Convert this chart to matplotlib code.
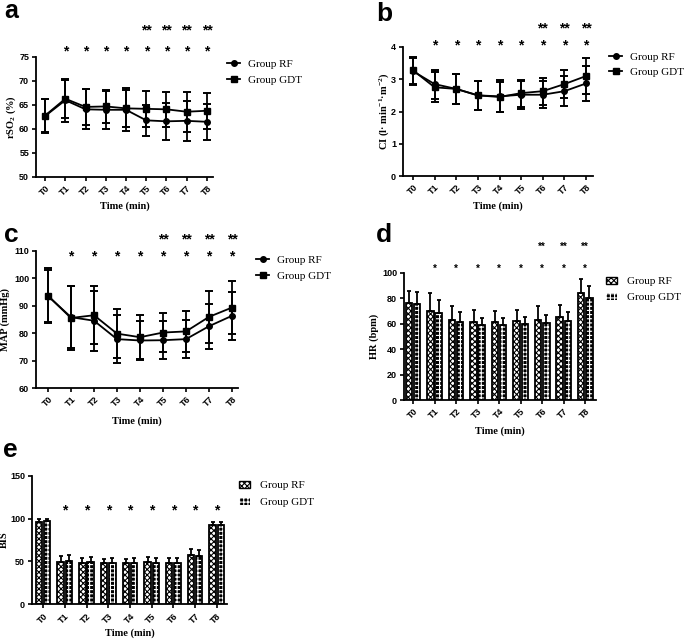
import numpy as np
import matplotlib
matplotlib.use("Agg")
import matplotlib.pyplot as plt
from matplotlib.patches import Patch
from matplotlib.lines import Line2D

plt.rcParams['font.family'] = ['Liberation Sans', 'DejaVu Sans']
plt.rcParams['mathtext.fontset'] = 'custom'
plt.rcParams['mathtext.rm'] = 'Liberation Serif:bold'
plt.rcParams['mathtext.it'] = 'Liberation Serif:bold'
plt.rcParams['mathtext.bf'] = 'Liberation Serif:bold'
plt.rcParams['hatch.linewidth'] = 0.8

# data (mean and SD)
times = ['T0', 'T1', 'T2', 'T3', 'T4', 'T5', 'T6', 'T7', 'T8']

rso2_rf = [62.7, 66.0, 64.1, 64.0, 64.0, 61.8, 61.6, 61.7, 61.5]
rso2_rf_sd = [3.5, 4.5, 4.2, 3.9, 4.5, 3.3, 3.8, 4.2, 3.8]
rso2_gdt = [62.8, 66.3, 64.6, 64.7, 64.3, 64.2, 64.1, 63.6, 63.8]
rso2_gdt_sd = [3.4, 4.0, 3.8, 3.5, 3.9, 3.8, 3.6, 4.2, 3.7]

ci_rf = [3.25, 2.85, 2.70, 2.50, 2.47, 2.52, 2.52, 2.63, 2.87]
ci_rf_sd = [0.42, 0.45, 0.47, 0.44, 0.50, 0.43, 0.42, 0.47, 0.55]
ci_gdt = [3.28, 2.75, 2.70, 2.50, 2.45, 2.57, 2.63, 2.85, 3.10]
ci_gdt_sd = [0.42, 0.47, 0.47, 0.44, 0.47, 0.42, 0.42, 0.43, 0.57]

map_rf = [93.5, 85.8, 84.5, 77.8, 77.3, 77.4, 77.8, 82.5, 86.3]
map_rf_sd = [9.5, 11.4, 11.0, 8.8, 7.2, 7.0, 7.0, 8.2, 8.7]
map_gdt = [93.6, 85.5, 86.5, 79.8, 78.5, 80.2, 80.6, 85.9, 89.3]
map_gdt_sd = [10.0, 11.7, 10.5, 8.8, 8.0, 7.2, 7.5, 9.4, 9.7]

hr_rf = [75.9, 70.2, 62.8, 61.0, 61.0, 61.8, 62.6, 64.9, 84.3]
hr_rf_sd = [9.7, 13.6, 11.3, 9.7, 8.9, 8.9, 11.0, 10.0, 10.5]
hr_gdt = [75.7, 68.3, 61.5, 59.2, 58.9, 59.7, 60.2, 61.8, 80.4]
hr_gdt_sd = [8.9, 10.2, 7.3, 5.5, 5.8, 5.7, 6.3, 7.6, 9.1]

bis_rf = [96.4, 49.2, 48.4, 48.0, 48.0, 49.2, 48.4, 57.5, 92.9]
bis_rf_sd = [3.6, 6.8, 5.2, 4.8, 4.8, 5.6, 5.2, 6.8, 3.1]
bis_gdt = [96.8, 50.4, 49.2, 48.4, 48.4, 48.0, 48.4, 56.3, 92.9]
bis_gdt_sd = [2.4, 6.7, 5.6, 5.2, 5.2, 5.6, 5.2, 6.8, 3.1]

star_a, dstar_a = times[1:], times[5:]
star_b, dstar_b = times[1:], times[6:]
star_c, dstar_c = times[1:], times[5:]
star_d, dstar_d = times[1:], times[6:]
star_e, dstar_e = times[1:], []

W, H = 685, 640
fig = plt.figure(figsize=(W / 100, H / 100), dpi=100)
x = np.arange(len(times))


def make_ax(l, r, top, bot):
    # pixel box -> figure fraction
    return fig.add_axes([l / W, 1 - bot / H, (r - l) / W, (bot - top) / H])


def style(ax, xlim, ylim, yticks, ylabel, ylab_x, xlab_y):
    ax.set_xlim(*xlim)
    ax.set_ylim(*ylim)
    ax.set_yticks(yticks)
    ax.set_xticks(x)
    ax.set_xticklabels(times, rotation=45, ha='right', rotation_mode='anchor')
    for s in ['top', 'right']:
        ax.spines[s].set_visible(False)
    for s in ['left', 'bottom']:
        ax.spines[s].set_linewidth(1.3)
    ax.tick_params(direction='out', length=3, width=1.2, labelsize=6.5, pad=2)
    for t in ax.get_xticklabels() + ax.get_yticklabels():
        t.set_fontweight('bold')
    ax.set_ylabel(ylabel, family='Liberation Serif', fontweight='bold', fontsize=7.5)
    ax.yaxis.set_label_coords(ylab_x, 0.5)
    ax.set_xlabel('Time (min)', family='Liberation Serif', fontweight='bold', fontsize=7.5)
    ax.xaxis.set_label_coords(0.5, xlab_y)


def stars(ax, singles, doubles, y1, y2, fs):
    tr = ax.get_xaxis_transform()
    for t in singles:
        ax.text(times.index(t), y1, '*', transform=tr, ha='center', va='center',
                fontsize=fs, fontweight='bold')
    for t in doubles:
        ax.text(times.index(t), y2, '**', transform=tr, ha='center', va='center',
                fontsize=fs, fontweight='bold')


def line_panel(ax, rf, rf_sd, gdt, gdt_sd):
    kw = dict(color='black', lw=1.3, ms=4, capsize=2.6, capthick=1.4, elinewidth=1.3)
    ax.errorbar(x, gdt, yerr=gdt_sd, marker='s', **kw)
    ax.errorbar(x, rf, yerr=rf_sd, marker='o', **kw)


def line_legend(ax, lx, ly, sp):
    h = [Line2D([], [], color='black', lw=1.3, marker='o', ms=4),
         Line2D([], [], color='black', lw=1.3, marker='s', ms=4)]
    ax.legend(h, ['Group RF', 'Group GDT'], loc='upper left',
              bbox_to_anchor=(lx / W, 1 - ly / H), bbox_transform=fig.transFigure,
              frameon=False, borderpad=0, borderaxespad=0, handlelength=1.2,
              handletextpad=0.7, labelspacing=sp,
              prop={'family': 'Liberation Serif', 'size': 8})


def bar_panel(ax, rf, rf_sd, gdt, gdt_sd):
    w = 0.3
    off = 0.19
    ax.bar(x - off, rf, w, color='white', edgecolor='black', hatch='xxxxxx', lw=1.3,
           yerr=[np.zeros(len(x)), rf_sd], capsize=1.6,
           error_kw=dict(elinewidth=1.3, capthick=1.3), zorder=2)
    ax.bar(x + off, gdt, w, color='black', edgecolor='white', hatch='++++', lw=0, zorder=2)
    ax.bar(x + off, gdt, w, color='none', edgecolor='black', lw=1.3,
           yerr=[np.zeros(len(x)), gdt_sd], capsize=1.6,
           error_kw=dict(elinewidth=1.3, capthick=1.3), zorder=3)


def bar_legend(ax, lx, ly, sp):
    h = [Patch(facecolor='white', edgecolor='black', hatch='xxxxxx', lw=1.0),
         Patch(facecolor='black', edgecolor='white', hatch='++++', lw=0)]
    ax.legend(h, ['Group RF', 'Group GDT'], loc='upper left',
              bbox_to_anchor=(lx / W, 1 - ly / H), bbox_transform=fig.transFigure,
              frameon=False, borderpad=0, borderaxespad=0, handlelength=1.0,
              handleheight=0.6, handletextpad=0.9, labelspacing=sp,
              prop={'family': 'Liberation Serif', 'size': 8})


def letter(px, py, s, fs=19):
    fig.text(px / W, 1 - py / H, s, fontsize=fs, fontweight='bold',
             va='baseline', ha='left')


# a: rSO2
ax_a = make_ax(36, 213, 57, 177)
line_panel(ax_a, rso2_rf, rso2_rf_sd, rso2_gdt, rso2_gdt_sd)
style(ax_a, (-0.45, 8.3), (50, 75), np.arange(50, 76, 5), r'rSO$_2$ (%)', -0.1, -0.2)
stars(ax_a, star_a, dstar_a, 1.05, 1.225, 10)
line_legend(ax_a, 227, 59, 0.6)
letter(4, 18, 'a', 18)

# b: CI
ax_b = make_ax(403, 593, 47, 176)
line_panel(ax_b, ci_rf, ci_rf_sd, ci_gdt, ci_gdt_sd)
style(ax_b, (-0.46, 8.32), (0, 4), np.arange(0, 5, 1),
      r'CI (l· min$^{-1}$·m$^{-2}$)', -0.065, -0.2)
stars(ax_b, star_b, dstar_b, 1.015, 1.145, 10)
line_legend(ax_b, 609, 52, 0.45)
letter(376, 21, 'b')

# c: MAP
ax_c = make_ax(36, 238, 250.7, 388)
line_panel(ax_c, map_rf, map_rf_sd, map_gdt, map_gdt_sd)
style(ax_c, (-0.52, 8.26), (60, 110), np.arange(60, 111, 10), 'MAP (mmHg)', -0.13, -0.21)
stars(ax_c, star_c, dstar_c, 0.955, 1.08, 10)
line_legend(ax_c, 256, 255, 0.6)
letter(4, 242, 'c')

# d: HR
ax_d = make_ax(404, 596, 272.7, 400)
bar_panel(ax_d, hr_rf, hr_rf_sd, hr_gdt, hr_gdt_sd)
style(ax_d, (-0.42, 8.5), (0, 100), np.arange(0, 101, 20), 'HR (bpm)', -0.13, -0.21)
stars(ax_d, star_d, dstar_d, 1.03, 1.2, 7)
bar_legend(ax_d, 606, 277, 0.55)
letter(376, 242, 'd')

# e: BIS
ax_e = make_ax(32, 227, 475.7, 604.3)
bar_panel(ax_e, bis_rf, bis_rf_sd, bis_gdt, bis_gdt_sd)
style(ax_e, (-0.51, 8.47), (0, 150), np.arange(0, 151, 50), 'BIS', -0.12, -0.19)
stars(ax_e, star_e, dstar_e, 0.733, 0.9, 10)
bar_legend(ax_e, 239, 481, 0.65)
letter(3, 457, 'e')

fig.savefig('out.png', dpi=100)
